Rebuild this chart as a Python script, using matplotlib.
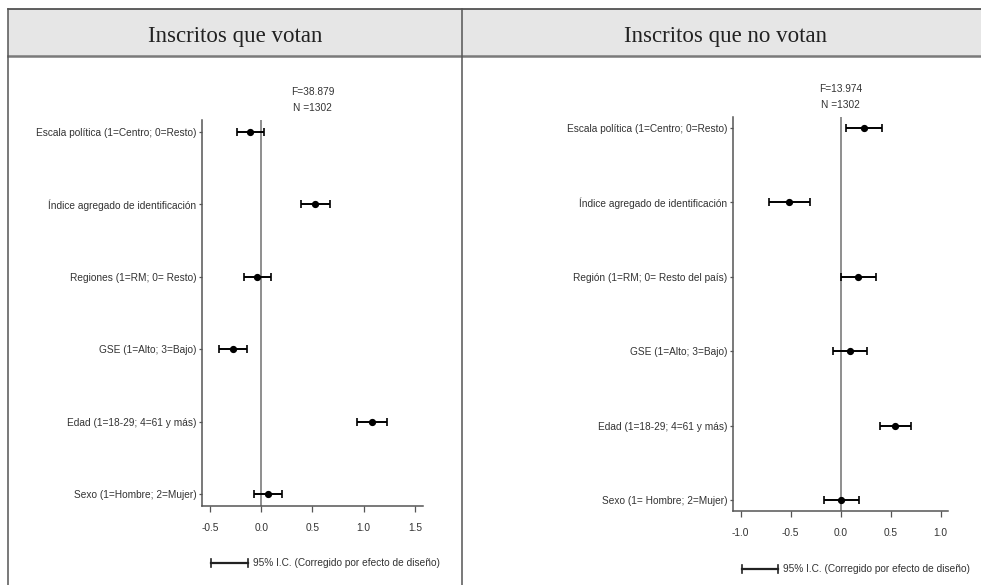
import numpy as np
import matplotlib
matplotlib.use("Agg")
from matplotlib import pyplot as plt
from matplotlib.lines import Line2D
from matplotlib.patches import Rectangle

W, H = 981, 585

titles = ["Inscritos que votan", "Inscritos que no votan"]

labels_vot = ["Escala política (1=Centro; 0=Resto)", "Índice agregado de identificación",
              "Regiones (1=RM; 0= Resto)", "GSE (1=Alto; 3=Bajo)",
              "Edad (1=18-29; 4=61 y más)", "Sexo (1=Hombre; 2=Mujer)"]
coef_vot = [-0.107, 0.526, -0.045, -0.276, 1.078, 0.065]
low_vot = [-0.234, 0.386, -0.172, -0.412, 0.932, -0.068]
high_vot = [0.030, 0.672, 0.091, -0.136, 1.231, 0.202]
stats_vot = ["F=38.879", "N =1302"]
stats_x_vot = 0.5
ticks_vot = [-0.5, 0.0, 0.5, 1.0, 1.5]

labels_novot = ["Escala política (1=Centro; 0=Resto)", "Índice agregado de identificación",
                "Región (1=RM; 0= Resto del país)", "GSE (1=Alto; 3=Bajo)",
                "Edad (1=18-29; 4=61 y más)", "Sexo (1= Hombre; 2=Mujer)"]
coef_novot = [0.233, -0.517, 0.173, 0.090, 0.540, 0.000]
low_novot = [0.057, -0.720, 0.007, -0.077, 0.390, -0.170]
high_novot = [0.417, -0.310, 0.350, 0.263, 0.707, 0.183]
stats_novot = ["F=13.974", "N =1302"]
stats_x_novot = 0.0
ticks_novot = [-1.0, -0.5, 0.0, 0.5, 1.0]

legend_text = "95% I.C. (Corregido por efecto de diseño)"

sans = ["Liberation Sans", "DejaVu Sans"]
serif = ["Liberation Serif", "DejaVu Serif"]
FS = 7.3
TXT = "#333333"


def px_axes(fig, x0, y0, x1, y1):
    return fig.add_axes([x0 / W, 1 - y1 / H, (x1 - x0) / W, (y1 - y0) / H])


def forest(ax, labels, coef, low, high, ticks, xlim, pad, stats, stats_x):
    y = np.arange(len(labels))
    coef = np.array(coef)
    err = [coef - np.array(low), np.array(high) - coef]
    ax.axvline(0, color="#707070", lw=1.1, zorder=1)
    ax.errorbar(coef, y, xerr=err, fmt="o", color="black", ms=4.2,
                elinewidth=1.4, capsize=3, capthick=1.2, zorder=3)
    ax.set_xlim(*xlim)
    ax.set_ylim(len(labels) - 1 + pad, -pad)
    ax.set_yticks(y)
    ax.set_yticklabels(labels, family=sans, fontsize=FS, color=TXT)
    ax.set_xticks(ticks)
    ax.set_xticklabels([f"{t:.1f}" for t in ticks], family=sans, fontsize=FS, color=TXT)
    for s in ["top", "right"]:
        ax.spines[s].set_visible(False)
    for s in ["left", "bottom"]:
        ax.spines[s].set_color("#555555")
        ax.spines[s].set_linewidth(1.1)
    ax.tick_params(axis="y", length=2.5, width=0.9, color="#555555", pad=1.5)
    ax.tick_params(axis="x", length=4.5, width=0.9, color="#555555", pad=7.5)
    tr = ax.get_xaxis_transform()
    ax.text(stats_x, 1.072, stats[0], ha="center", va="center", family=sans,
            fontsize=FS, color=TXT, transform=tr, clip_on=False)
    ax.text(stats_x, 1.031, stats[1], ha="center", va="center", family=sans,
            fontsize=FS, color=TXT, transform=tr, clip_on=False)


def legend_key(fig, x0, x1, yk, text):
    fig.add_artist(Line2D([x0 / W, x1 / W], [1 - yk / H] * 2, color="#222222", lw=1.6,
                          transform=fig.transFigure))
    for xe in (x0, x1):
        fig.add_artist(Line2D([xe / W] * 2, [1 - (yk - 4) / H, 1 - (yk + 4) / H],
                              color="#222222", lw=1.2, transform=fig.transFigure))
    fig.text((x1 + 5) / W, 1 - yk / H, text, ha="left", va="center",
             family=sans, fontsize=FS, color=TXT)


fig = plt.figure(figsize=(W / 100, H / 100), dpi=100)

# table frame and header
fig.add_artist(Rectangle((8 / W, 1 - 56 / H), (W - 8) / W, 47 / H, facecolor="#e6e6e6",
                         edgecolor="none", transform=fig.transFigure))
fig.add_artist(Line2D([8 / W, 1], [1 - 9 / H] * 2, color="#444444", lw=1.2, transform=fig.transFigure))
fig.add_artist(Line2D([8 / W, 1], [1 - 56 / H] * 2, color="#7a7a7a", lw=1.8, transform=fig.transFigure))
fig.add_artist(Line2D([8 / W] * 2, [0, 1 - 9 / H], color="#555555", lw=1.1, transform=fig.transFigure))
fig.add_artist(Line2D([462 / W] * 2, [0, 1 - 9 / H], color="#555555", lw=1.1, transform=fig.transFigure))
fig.text(235 / W, 1 - 42 / H, titles[0], ha="center", va="baseline", family=serif, fontsize=16.5, color="#222222")
fig.text(725 / W, 1 - 42 / H, titles[1], ha="center", va="baseline", family=serif, fontsize=16.5, color="#222222")

ax1 = px_axes(fig, 202, 120, 423, 506)
forest(ax1, labels_vot, coef_vot, low_vot, high_vot, ticks_vot, (-0.578, 1.578), 0.166,
       stats_vot, stats_x_vot)

ax2 = px_axes(fig, 733, 117, 948, 511)
forest(ax2, labels_novot, coef_novot, low_novot, high_novot, ticks_novot, (-1.077, 1.073), 0.148,
       stats_novot, stats_x_novot)

legend_key(fig, 211, 248, 563, legend_text)
legend_key(fig, 742, 778, 569, legend_text)

fig.savefig("out.png", dpi=100)
